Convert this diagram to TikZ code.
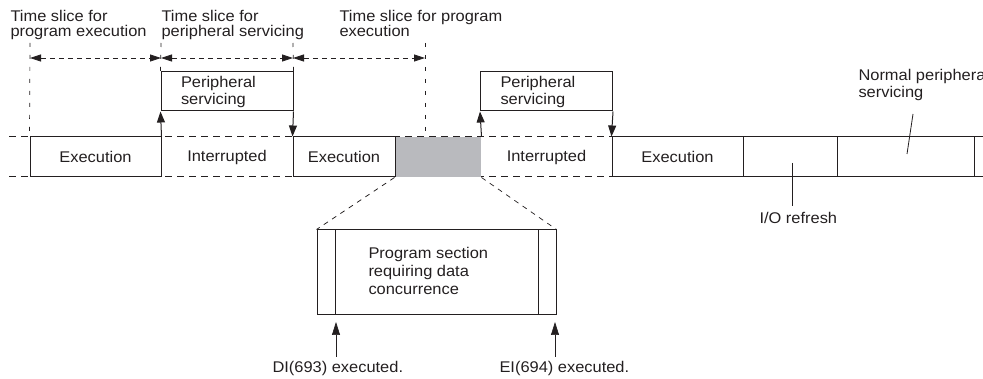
\documentclass[tikz,border=0pt]{standalone}
\usepackage{fontspec}
\setmainfont{Liberation Sans}[FakeStretch=1.06]
\usetikzlibrary{arrows.meta}
\definecolor{greyfill}{HTML}{B9BABE}
\definecolor{ink}{HTML}{231F20}
\begin{document}
\begin{tikzpicture}[x=1pt,y=-1pt, line width=1pt, draw=ink, text=ink,
  every node/.style={font=\fontsize{15.5}{15}\selectfont, inner sep=0pt},
  seg/.style={draw, fill=white, minimum height=40pt, inner sep=0pt},
  pbox/.style={draw, fill=white, minimum height=39pt, text width=92pt, inner xsep=20pt, inner ysep=0pt, align=left, font=\fontsize{15.5}{17}\selectfont},
  band/.style={dash pattern=on 7pt off 5pt},
  slice/.style={dash pattern=on 4pt off 8pt, line width=0.7pt},
  dimline/.style={dash pattern=on 5pt off 4pt, line width=0.8pt, {Triangle[length=11pt,width=7pt]}-{Triangle[length=11pt,width=7pt]}},
  upar/.style={-{Triangle[length=11pt,width=8pt]}},
  lowar/.style={line width=0.7pt, -{Triangle[length=13pt,width=8pt]}},
  zoomd/.style={dash pattern=on 5pt off 5pt, line width=0.7pt},
  lbl/.style={anchor=north west, align=left}
]
\useasboundingbox (0,0) rectangle (983,379);

% band boundaries
\draw[band] (9,137) -- (612,137);
\draw[band] (9,177) -- (612,177);

% segments
\node[fill=greyfill, minimum width=86pt, minimum height=40pt] (grey) at (438,157) {};
\node[seg, minimum width=131pt] (ex1) at (95.5,157) {Execution};
\node (int1) at (227,157) {Interrupted};
\node[seg, minimum width=102pt] (ex2) at (344,157) {Execution};
\node (int2) at (546.5,157) {Interrupted};
\node[seg, minimum width=131pt] (ex3) at (677.5,157) {Execution};
\node[seg, minimum width=94pt] (io) at (790,157) {};
\node[seg, minimum width=137pt] (norm) at (905.5,157) {};
\node[seg, minimum width=30pt] (tail) at (989,157) {};

% peripheral servicing boxes
\node[pbox] (p1) at (227,91.5) {Peripheral\\servicing};
\node[pbox] (p2) at (546.5,91.5) {Peripheral\\servicing};

\draw[upar] (ex1.north east) -- (p1.south west);
\draw[upar] (p1.south east) -- (ex2.north west);
\draw[upar] (grey.north east) -- (p2.south west);
\draw[upar] (p2.south east) -- (ex3.north west);

% time slices
\coordinate (s0) at (30,43);
\coordinate (s1) at (161,43);
\coordinate (s2) at (293,43);
\coordinate (s3) at (425,43);
\coordinate (s3b) at (425,137);
\draw[slice] (s0) -- (ex1.north west);
\draw[slice] (s1) -- (p1.north west);
\draw[slice] (s2) -- (p1.north east);
\draw[slice] (s3) -- (s3b);
\coordinate (d0) at (30,58);
\coordinate (d1) at (161,58);
\coordinate (d2) at (293,58);
\coordinate (d3) at (425,58);
\draw[dimline] (d0) -- (d1);
\draw[dimline] (d1) -- (d2);
\draw[dimline] (d2) -- (d3);

\node[lbl] (t1) at (10,9.5) {Time slice for\\program execution};
\node[lbl] (t2) at (161,9.5) {Time slice for\\peripheral servicing};
\node[lbl] (t3) at (339,9.5) {Time slice for program\\execution};

% zoomed program section
\node[draw, minimum width=239pt, minimum height=85pt] (big) at (436.5,272.5) {};
\draw ([xshift=19pt]big.north west) -- ([xshift=19pt]big.south west);
\draw ([xshift=-18pt]big.north east) -- ([xshift=-18pt]big.south east);
\draw[zoomd] (grey.south west) -- (big.north west);
\draw[zoomd] (grey.south east) -- (big.north east);
\node[lbl, font=\fontsize{15.5}{18}\selectfont] (ptext) at (368,246.5) {Program section\\requiring data\\concurrence};

\coordinate (a1) at (336,357);
\coordinate (a1t) at (336,322);
\coordinate (a2) at (555,357);
\coordinate (a2t) at (555,322);
\draw[lowar] (a1) -- (a1t);
\draw[lowar] (a2) -- (a2t);
\node[anchor=base west] (di) at (272,373) {DI(693) executed.};
\node[anchor=base west] (ei) at (499,373) {EI(694) executed.};

% I/O refresh
\coordinate (io1) at (792,163);
\coordinate (io2) at (792,206);
\draw[line width=0.8pt] (io1) -- (io2);
\node[anchor=base west] (iol) at (759,224) {I/O refresh};

% normal peripheral servicing
\coordinate (n1) at (913,114);
\coordinate (n2) at (907,154);
\draw[line width=0.8pt] (n1) -- (n2);
\node[lbl, font=\fontsize{15.5}{17}\selectfont] (nl) at (858,68.5) {Normal peripheral\\servicing};
\end{tikzpicture}
\end{document}
